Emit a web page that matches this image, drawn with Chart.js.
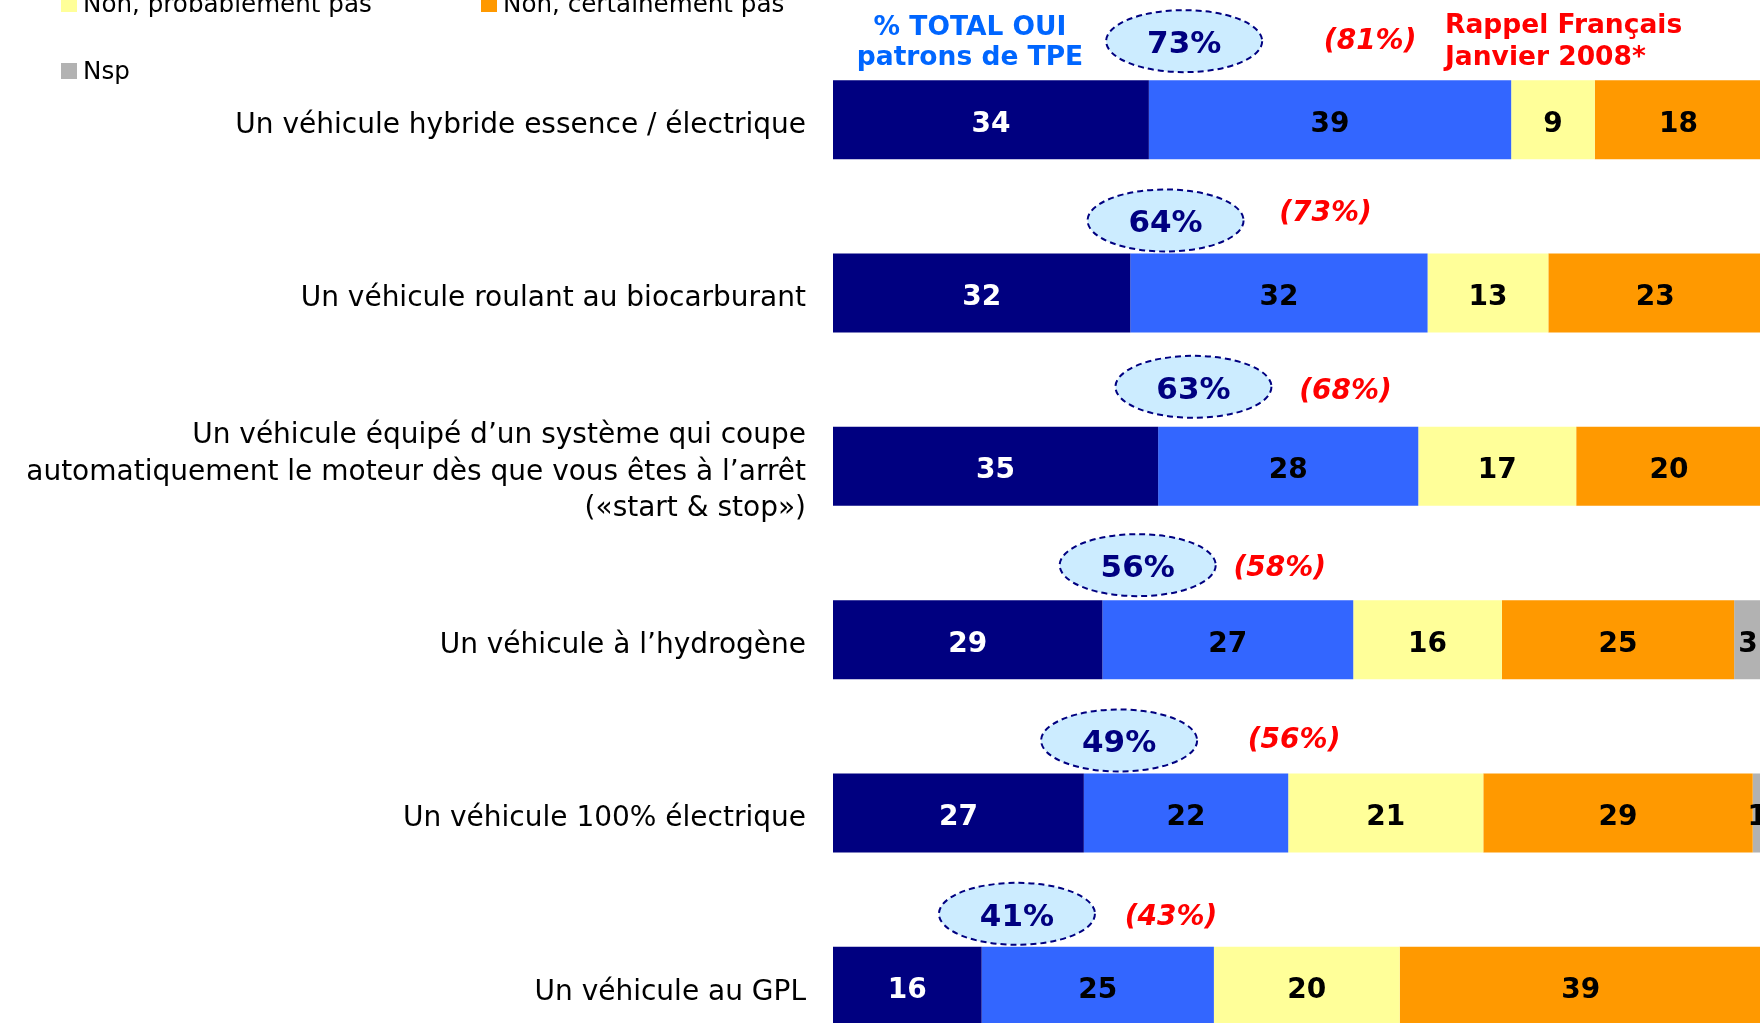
<!DOCTYPE html>
<html lang="fr">
<head>
<meta charset="utf-8">
<title>Intention d'achat – véhicules propres</title>
<script src="https://cdn.jsdelivr.net/npm/chart.js@4.4.1/dist/chart.umd.min.js"></script>
<style>
  html, body { margin: 0; padding: 0; background: #fff; overflow: hidden; }
  #chart { display: block; }
</style>
</head>
<body>
<canvas id="chart" width="1762" height="1073"></canvas>
<script>
/* ================= DATA ================= */

const categories = [
  "Un véhicule hybride essence / électrique",
  "Un véhicule roulant au biocarburant",
  ["Un véhicule équipé d’un système qui coupe",
   "automatiquement le moteur dès que vous êtes à l’arrêt",
   "(«start & stop»)"],
  "Un véhicule à l’hydrogène",
  "Un véhicule 100% électrique",
  "Un véhicule au GPL"
];

const seriesNames = ["Oui, certainement", "Oui, probablement", "Non, probablement pas", "Non, certainement pas", "Nsp"];

const ouiCertainement = [34, 32, 35, 29, 27, 16];
const ouiProbablement = [39, 32, 28, 27, 22, 25];
const nonProbablement = [9, 13, 17, 16, 21, 20];
const nonCertainement = [18, 23, 20, 25, 29, 39];
const nsp = [0, 0, 0, 3, 1, 0];

// reminder: French public, January 2008
const rappel2008 = [81, 73, 68, 58, 56, 43];

/* ================= STYLE ================= */

const FONT = "'DejaVu Sans', Verdana, sans-serif";
const colors = ["#000080", "#3366ff", "#ffff99", "#ff9900", "#b2b2b2"];
const labelColors = ["#ffffff", "#000000", "#000000", "#000000", "#000000"];

// how far each bubble sits above its bar, px
const bubbleLift = [39, 33, 40, 35, 33, 33];
// nudge of the red reminder next to each bubble, px
const rappelShift = [[186, -3], [160, -10], [152, 1], [142, 0], [175, -3], [154, 0]];

const totalOui = ouiCertainement.map((v, i) => v + ouiProbablement[i]);

/* ================= PLUGINS ================= */

// stacked values written inside each segment
const segmentValues = {
  id: "segmentValues",
  afterDatasetsDraw(chart) {
    const ctx = chart.ctx;
    ctx.save();
    ctx.font = `bold 28px ${FONT}`;
    ctx.textAlign = "center";
    ctx.textBaseline = "alphabetic";
    chart.data.datasets.forEach((ds, d) => {
      chart.getDatasetMeta(d).data.forEach((bar, i) => {
        const v = ds.data[i];
        if (!v) return;
        ctx.fillStyle = labelColors[d];
        ctx.fillText(String(v), (bar.x + bar.base) / 2, bar.y + 12);
      });
    });
    ctx.restore();
  }
};

// "% TOTAL OUI" bubbles + red 2008 reminder
const totalBubbles = {
  id: "totalBubbles",
  afterDraw(chart) {
    const ctx = chart.ctx;
    const xs = chart.scales.x;
    const bars = chart.getDatasetMeta(0).data;
    ctx.save();
    totalOui.forEach((t, i) => {
      const bar = bars[i];
      const cx = xs.getPixelForValue(ouiCertainement[i] + 3.8);
      const cy = bar.y - bar.height / 2 - bubbleLift[i];

      ctx.beginPath();
      ctx.ellipse(cx, cy, 78, 31, 0, 0, Math.PI * 2);
      ctx.fillStyle = "#ccecff";
      ctx.fill();
      ctx.setLineDash([6, 4]);
      ctx.lineWidth = 2;
      ctx.strokeStyle = "#000080";
      ctx.stroke();
      ctx.setLineDash([]);

      ctx.textAlign = "center";
      ctx.textBaseline = "alphabetic";
      ctx.fillStyle = "#000080";
      ctx.font = `bold 31px ${FONT}`;
      ctx.fillText(t + "%", cx, cy + 12);

      ctx.fillStyle = "#ff0000";
      ctx.font = `italic bold 28px ${FONT}`;
      ctx.fillText(`(${rappel2008[i]}%)`, cx + rappelShift[i][0], cy + rappelShift[i][1] + 11);
    });

    // column headers
    ctx.font = `bold 26.5px ${FONT}`;
    ctx.fillStyle = "#0066ff";
    ctx.textAlign = "center";
    ctx.fillText("% TOTAL OUI", 970, 35);
    ctx.fillText("patrons de TPE", 970, 65);
    ctx.fillStyle = "#ff0000";
    ctx.textAlign = "left";
    ctx.fillText("Rappel Français", 1445, 33);
    ctx.fillText("Janvier 2008*", 1445, 65);
    ctx.restore();
  }
};

// two-column legend
const legendGrid = {
  id: "legendGrid",
  afterDraw(chart) {
    const ctx = chart.ctx;
    ctx.save();
    ctx.font = `24.6px ${FONT}`;
    ctx.textAlign = "left";
    ctx.textBaseline = "alphabetic";
    chart.data.datasets.forEach((ds, i) => {
      const x = i % 2 === 0 ? 61 : 481;
      const y = -55 + 67 * Math.floor(i / 2);
      ctx.fillStyle = ds.backgroundColor;
      ctx.fillRect(x, y - 16, 16, 16);
      ctx.fillStyle = "#000";
      ctx.fillText(ds.label, x + 22, y);
    });
    ctx.restore();
  }
};

/* ================= CHART ================= */

const seriesData = [ouiCertainement, ouiProbablement, nonProbablement, nonCertainement, nsp];

new Chart(document.getElementById("chart"), {
  type: "bar",
  data: {
    labels: categories,
    datasets: seriesNames.map((name, i) => ({
      label: name,
      data: seriesData[i],
      backgroundColor: colors[i],
      borderWidth: 0,
      barPercentage: 0.456,
      categoryPercentage: 1
    }))
  },
  options: {
    indexAxis: "y",
    responsive: false,
    animation: false,
    layout: { padding: { top: 33, left: 0, right: 0, bottom: 0 } },
    scales: {
      x: { stacked: true, min: 0, max: 100, display: false },
      y: {
        stacked: true,
        grid: { display: false, drawTicks: false },
        border: { display: false },
        ticks: {
          autoSkip: false,
          padding: 27,
          labelOffset: 6,
          color: "#000",
          font: { family: FONT, size: 28, lineHeight: 1.31 }
        },
        afterFit(scale) {
          // fixed label column; labels sit inside their bands, no extra edge room
          scale.width = 833;
          scale.paddingTop = 0;
          scale.paddingBottom = 0;
        }
      }
    },
    plugins: {
      legend: { display: false },
      tooltip: { enabled: false }
    }
  },
  plugins: [segmentValues, totalBubbles, legendGrid]
});
</script>
</body>
</html>
